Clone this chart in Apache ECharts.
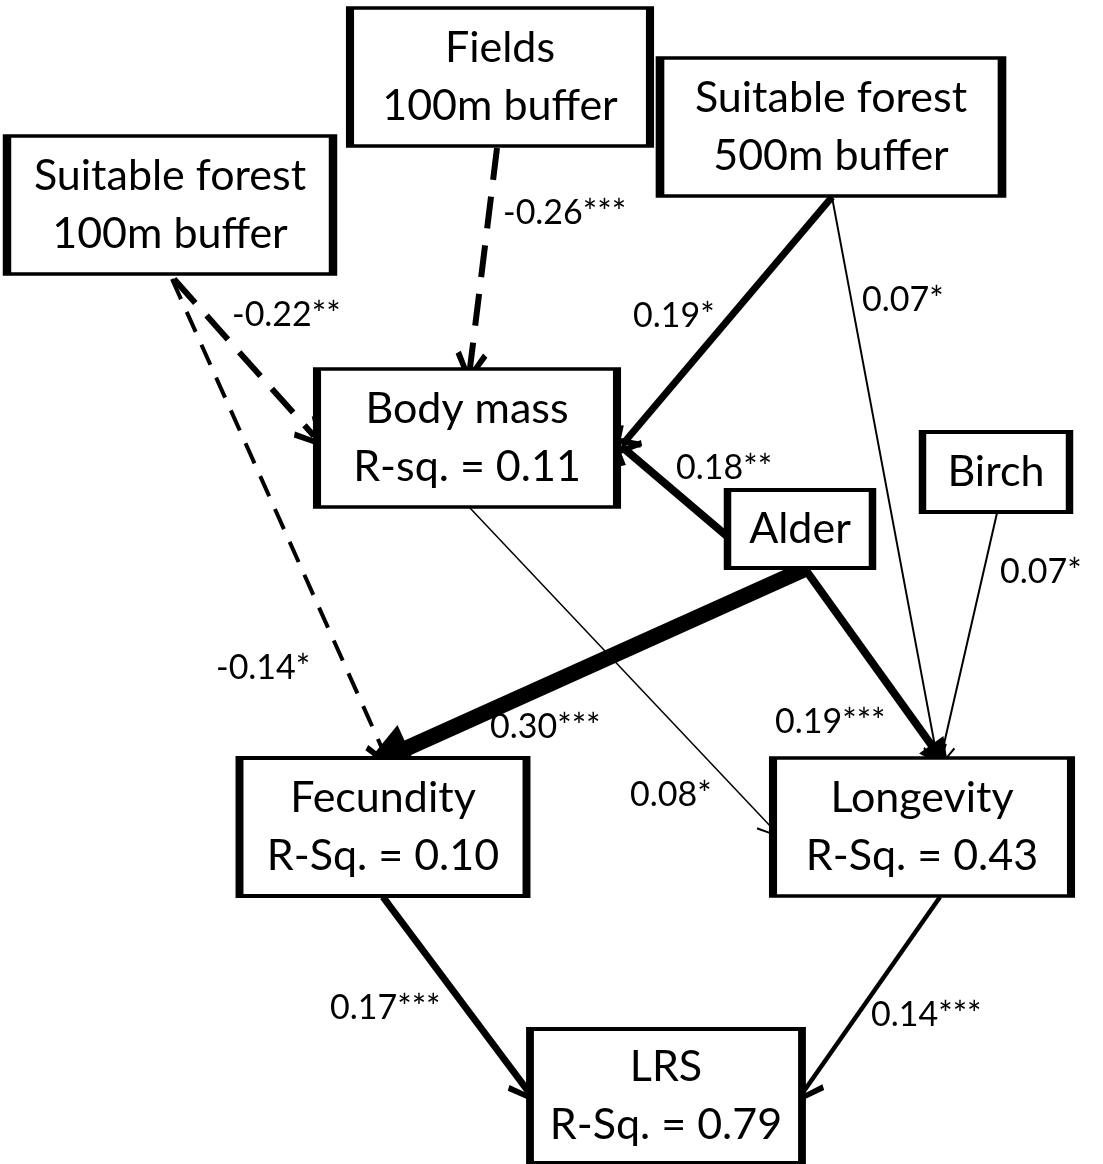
<!DOCTYPE html>
<html>
<head>
<meta charset="utf-8">
<script src="https://cdn.jsdelivr.net/npm/echarts@6/dist/echarts.min.js"></script>
<style>
  html, body { margin: 0; padding: 0; background: #fff; }
  #chart { width: 1103px; height: 1164px; }
</style>
</head>
<body>
<div id="chart"></div>
<script>
// variables in the path model
const nodeNames = ['Suitable forest\n100m buffer', 'Fields\n100m buffer', 'Suitable forest\n500m buffer',
  'Body mass', 'Alder', 'Birch', 'Fecundity', 'Longevity', 'LRS']
const rSqPrefix = [null, null, null, 'R-sq.', null, null, 'R-Sq.', 'R-Sq.', 'R-Sq.']
const rSquared = [null, null, null, 0.11, null, null, 0.10, 0.43, 0.79]

// standardized path coefficients
const pathFrom = [1, 0, 0, 2, 2, 4, 4, 4, 5, 3, 6, 7]
const pathTo = [3, 3, 6, 3, 7, 3, 6, 7, 7, 7, 8, 8]
const pathCoef = [-0.26, -0.22, -0.14, 0.19, 0.07, 0.18, 0.30, 0.19, 0.07, 0.08, 0.17, 0.14]
const pathStars = ['***', '**', '*', '*', '*', '**', '***', '***', '*', '*', '***', '***']

// layout: box centre x, y, width, height (pixels of the 1103x1164 page)
const boxLayout = [
  [170, 205, 326, 138], [500, 77, 300, 138], [831, 127, 342, 138],
  [467, 438, 300, 138], [800, 529, 145, 78], [996, 472, 147, 80],
  [383, 827, 287, 138], [922, 827, 298, 138], [666, 1096, 272, 134]
]
// layout: path start, end, label anchor (left / middle), line width, head
const pathLayout = [
  [[497, 148], [470, 368], [503, 213], 6, 'v'],
  [[174, 279], [314, 436], [232, 315], 6, 'v'],
  [[172, 279], [385, 755], [216, 668], 4, 'v'],
  [[832, 197], [622, 445], [633, 316], 7, 'v'],
  [[832, 197], [937, 757], [862, 300], 2, 'thin'],
  [[728, 537], [621, 446], [676, 468], 8, 'v'],
  [[805, 569], [385, 758], [490, 727], 16, 'tri'],
  [[805, 569], [940, 757], [775, 722], 8, 'tri'],
  [[997, 513], [941, 757], [1000, 572], 2, 'thin'],
  [[470, 508], [773, 829], [630, 795], 1.5, 'thin'],
  [[383, 897], [528, 1091], [330, 1008], 7, 'v'],
  [[940, 897], [804, 1091], [871, 1015], 4.5, 'v']
]

const FONT = 'Lato, "Liberation Sans", sans-serif'
const heads = {
  v: 'path://M50,0 L100,78 L85,88 L50,30 L15,88 L0,78 Z',
  thin: 'path://M50,0 L100,90 L93,95 L50,12 L7,95 L0,90 Z',
  tri: 'triangle'
}
function headSize(w, kind) {
  if (kind === 'tri') return w > 10 ? [60, 50] : [32, 30]
  if (kind === 'thin') return [26, 24]
  return [36, 32]
}

const edgeSeries = pathCoef.map((c, i) => {
  const [a, b, , w, kind] = pathLayout[i]
  const size = headSize(w, kind)
  const dashed = c < 0
  return {
    type: 'lines',
    coordinateSystem: 'cartesian2d',
    z: 2,
    silent: true,
    symbol: ['none', heads[kind]],
    symbolSize: size,
    symbolOffset: [0, size[1] / 2],
    lineStyle: {
      color: '#000',
      width: w,
      opacity: 1,
      type: dashed ? (w > 5 ? [32, 17] : [22, 14]) : 'solid'
    },
    itemStyle: { color: '#000' },
    data: [{ coords: [a, b] }]
  }
})

const boxData = nodeNames.map((n, i) => {
  const [x, y, w, h] = boxLayout[i]
  const text = rSquared[i] == null ? n : n + '\n' + rSqPrefix[i] + ' = ' + rSquared[i].toFixed(2)
  return { name: n, value: [x, y], symbolSize: [w, h], text }
})

const labelData = pathCoef.map((c, i) => ({
  value: pathLayout[i][2],
  text: c.toFixed(2) + pathStars[i]
}))

const chart = echarts.init(document.getElementById('chart'), null, { renderer: 'canvas' })
chart.setOption({
  animation: false,
  backgroundColor: '#fff',
  grid: { left: 0, right: 0, top: 0, bottom: 0 },
  xAxis: { type: 'value', min: 0, max: 1103, show: false },
  yAxis: { type: 'value', min: 0, max: 1164, inverse: true, show: false },
  series: [
    ...edgeSeries,
    {
      type: 'scatter',
      z: 3,
      silent: true,
      symbol: 'rect',
      itemStyle: { color: '#fff', borderColor: '#000', borderWidth: 5.5, opacity: 1 },
      label: {
        show: true,
        position: 'inside',
        color: '#000',
        fontFamily: FONT,
        fontSize: 43,
        lineHeight: 58,
        textBorderWidth: 0,
        formatter: p => p.data.text
      },
      data: boxData
    },
    {
      type: 'scatter',
      z: 4,
      silent: true,
      symbolSize: 0.5,
      itemStyle: { color: '#fff', opacity: 1 },
      label: {
        show: true,
        position: 'inside',
        align: 'left',
        verticalAlign: 'middle',
        color: '#000',
        opacity: 1,
        textBorderWidth: 0,
        fontFamily: FONT,
        fontSize: 34,
        formatter: p => p.data.text
      },
      data: labelData
    }
  ]
})
</script>
</body>
</html>
